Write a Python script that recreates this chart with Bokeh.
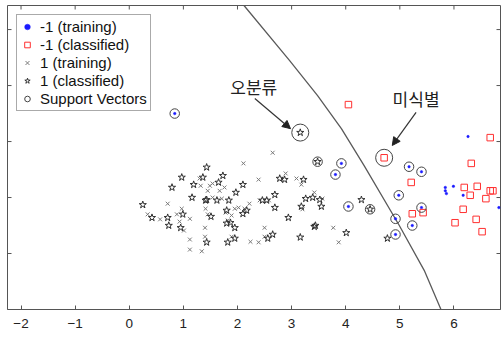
from bokeh.plotting import figure
from bokeh.models import Range1d, LinearAxis, FixedTicker, Arrow, NormalHead, Legend
from bokeh.core.properties import value
from bokeh.embed import file_html
from bokeh.resources import INLINE

# ---- data ----
x_ticks = [-2, -1, 0, 1, 2, 3, 4, 5, 6]
y_ticks = [-2, -1, 0, 1, 2]
X_LO, X_HI = -2.25, 6.86
Y_LO, Y_HI = -3.0, 2.43

# -1 (training)
neg_train_x = [6.26, 5.84, 5.84, 5.86, 5.99, 6.17, 6.83,
               0.84, 3.92, 3.81, 5.17, 5.40, 4.98, 4.05, 5.40, 4.92, 5.23, 4.92]
neg_train_y = [0.09, -0.82, -0.88, -0.93, -0.80, -0.96, -1.18,
               0.50, -0.39, -0.59, -0.45, -0.54, -0.96, -1.16, -1.18, -1.38, -1.50, -1.66]

# -1 (classified)
neg_cls_x = [4.05, 6.67, 6.32, 5.21, 6.19, 6.43, 6.67, 6.72, 6.30, 6.59,
             5.23, 5.43, 6.17, 6.41, 6.02, 6.52, 4.71]
neg_cls_y = [0.66, 0.07, -0.39, -0.73, -0.82, -0.80, -0.88, -0.88, -0.96, -1.02,
             -1.29, -1.27, -1.21, -1.39, -1.45, -1.61, -0.29]

# 1 (training)
pos_train_x = [2.65, 2.11, 2.89, 1.30, 1.49, 1.32, 1.54, 1.67, 1.76, 1.45,
               2.39, 3.09, 3.18, 0.71, 0.97, 0.88, 0.34, 0.57, 1.12, 0.93,
               1.01, 1.41, 1.45, 1.54, 1.71, 1.95, 2.02, 2.13, 2.22, 2.41,
               2.58, 1.78, 1.82, 1.89, 1.40, 1.40, 1.12, 1.12, 1.34, 1.89,
               2.24, 2.39, 2.50, 2.50, 3.20, 3.42, 3.57, 3.77, 3.87]
pos_train_y = [-0.20, -0.39, -0.57, -0.66, -0.79, -0.79, -0.75, -0.88, -0.82, -0.88,
               -0.68, -0.66, -0.77, -1.11, -1.20, -1.30, -1.30, -1.39, -1.38, -1.43,
               -1.59, -1.20, -1.30, -1.00, -1.02, -1.20, -1.18, -1.20, -1.11, -1.05,
               -1.05, -1.27, -1.41, -1.32, -1.54, -1.70, -1.75, -1.93, -1.96, -1.70,
               -1.79, -1.80, -1.54, -1.70, -1.21, -0.91, -1.02, -1.54, -1.80]

# 1 (classified)
pos_cls_x = [1.43, 0.97, 1.36, 1.19, 0.79, 1.73, 1.65, 2.10, 1.97, 1.16,
             1.41, 1.43, 1.62, 1.84, 0.25, 0.42, 0.71, 0.99, 0.73, 0.95,
             1.51, 1.80, 2.17, 2.10, 1.80, 1.87, 1.95, 1.43, 1.82, 1.95,
             2.46, 2.54, 2.69, 2.69, 2.78, 2.87, 3.22, 2.94, 3.16, 2.56,
             2.65, 3.26, 3.39, 3.18, 3.55, 3.52, 3.42, 3.44, 4.01, 4.29,
             4.77, 3.48, 4.45, 3.16]
pos_cls_y = [-0.46, -0.64, -0.64, -0.77, -0.82, -0.61, -0.73, -0.77, -0.91, -1.00,
             -1.05, -1.04, -1.05, -1.05, -1.13, -1.36, -1.36, -1.30, -1.50, -1.54,
             -1.34, -1.23, -1.23, -1.29, -1.46, -1.45, -1.54, -1.80, -1.80, -1.73,
             -1.05, -1.05, -0.95, -1.18, -0.66, -0.68, -0.68, -1.36, -1.71, -1.73,
             -1.66, -1.02, -1.00, -1.16, -1.16, -1.04, -1.52, -1.50, -1.63, -1.04,
             -1.73, -0.36, -1.21, 0.16]

# Support vectors
sv_x = [0.84, 3.92, 3.81, 5.17, 5.40, 4.98, 4.05, 5.40, 4.92, 5.23, 4.92, 3.48, 4.45]
sv_y = [0.50, -0.39, -0.59, -0.45, -0.54, -0.96, -1.16, -1.18, -1.38, -1.50, -1.66, -0.36, -1.21]

# highlighted points (misclassified / unidentified)
hl_x = [3.16, 4.71]
hl_y = [0.16, -0.29]

# separating boundary
bnd_x = [2.12, 2.96, 3.48, 3.92, 4.34, 4.99, 5.45, 5.76]
bnd_y = [2.43, 1.45, 0.82, 0.23, -0.43, -1.50, -2.30, -3.00]

# annotations
ann_text = ["오분류", "미식별"]
ann_tx = [2.30, 5.30]
ann_ty = [0.98, 0.77]
arr_x0 = [2.32, 5.30]
arr_y0 = [0.77, 0.52]
arr_x1 = [2.98, 4.86]
arr_y1 = [0.23, -0.07]

FONT = "Liberation Sans"
AX = "#555555"
W, H = 501, 339
BL, BR, BT, BB = 7, 1, 5, 30
TICK_PX = 4

p = figure(width=W, height=H, output_backend="svg", toolbar_location=None,
           x_range=Range1d(X_LO, X_HI), y_range=Range1d(Y_LO, Y_HI),
           min_border_left=BL, min_border_right=BR, min_border_top=BT, min_border_bottom=BB,
           x_axis_location=None, y_axis_location=None)
p.grid.visible = False
p.outline_line_color = AX
p.outline_line_width = 1
p.background_fill_color = "white"
p.border_fill_color = "white"

xa = LinearAxis(ticker=FixedTicker(ticks=x_ticks))
xa.major_tick_in = TICK_PX
xa.major_tick_out = 0
xa.minor_tick_in = 0
xa.minor_tick_out = 0
xa.axis_line_color = AX
xa.major_tick_line_color = AX
xa.major_label_text_font = FONT
xa.major_label_text_font_size = "13.5px"
xa.major_label_text_color = "#222222"
xa.major_label_standoff = 9
p.add_layout(xa, "below")

# inward ticks on the top, left and right edges (labels are outside the crop)
dx = TICK_PX * (X_HI - X_LO) / (W - BL - BR)
dy = TICK_PX * (Y_HI - Y_LO) / (H - BT - BB)
p.segment(x0=x_ticks, y0=[Y_HI] * len(x_ticks), x1=x_ticks, y1=[Y_HI - dy] * len(x_ticks),
          line_color=AX, line_width=1)
p.segment(x0=[X_LO] * len(y_ticks), y0=y_ticks, x1=[X_LO + dx] * len(y_ticks), y1=y_ticks,
          line_color=AX, line_width=1)
p.segment(x0=[X_HI] * len(y_ticks), y0=y_ticks, x1=[X_HI - dx] * len(y_ticks), y1=y_ticks,
          line_color=AX, line_width=1)

# boundary
p.line(bnd_x, bnd_y, line_color="#5a5a5a", line_width=1.3)

r1 = p.scatter(neg_train_x, neg_train_y, marker="circle", size=2.5,
               fill_color="#1a1aff", line_color="#1a1aff", line_width=0.5)
r2 = p.scatter(neg_cls_x, neg_cls_y, marker="square", size=6.5,
               fill_color=None, line_color="#ff3030", line_width=1)
r3 = p.scatter(pos_train_x, pos_train_y, marker="x", size=5.5,
               line_color="#7a7a7a", line_width=1)
r4 = p.scatter(pos_cls_x, pos_cls_y, marker="star", size=7.5,
               fill_color=None, line_color="#303030", line_width=1)
r5 = p.scatter(sv_x, sv_y, marker="circle", size=9.5,
               fill_color=None, line_color="#444444", line_width=1)
p.scatter(hl_x, hl_y, marker="circle", size=17,
          fill_color=None, line_color="#444444", line_width=1)

p.text(ann_tx, ann_ty, text=ann_text, text_font=value("Noto Sans CJK KR"),
       text_font_size="17px", text_align="center", text_baseline="middle",
       text_color="#222222")
for i in range(len(arr_x0)):
    p.add_layout(Arrow(end=NormalHead(size=8, fill_color="#222222", line_color="#222222"),
                       x_start=arr_x0[i], y_start=arr_y0[i],
                       x_end=arr_x1[i], y_end=arr_y1[i],
                       line_color="#333333", line_width=1.2))

legend = Legend(items=[("-1 (training)", [r1]), ("-1 (classified)", [r2]),
                       ("1 (training)", [r3]), ("1 (classified)", [r4]),
                       ("Support Vectors", [r5])],
                location="top_left")
legend.margin = 9
legend.padding = 3
legend.spacing = 1
legend.label_height = 15
legend.glyph_height = 15
legend.glyph_width = 14
legend.label_standoff = 6
legend.label_text_font = FONT
legend.label_text_font_size = "15px"
legend.label_text_color = "#111111"
legend.border_line_color = "#555555"
legend.border_line_width = 1
legend.background_fill_alpha = 1
p.add_layout(legend)

open("out.html", "w").write(file_html(p, INLINE))
